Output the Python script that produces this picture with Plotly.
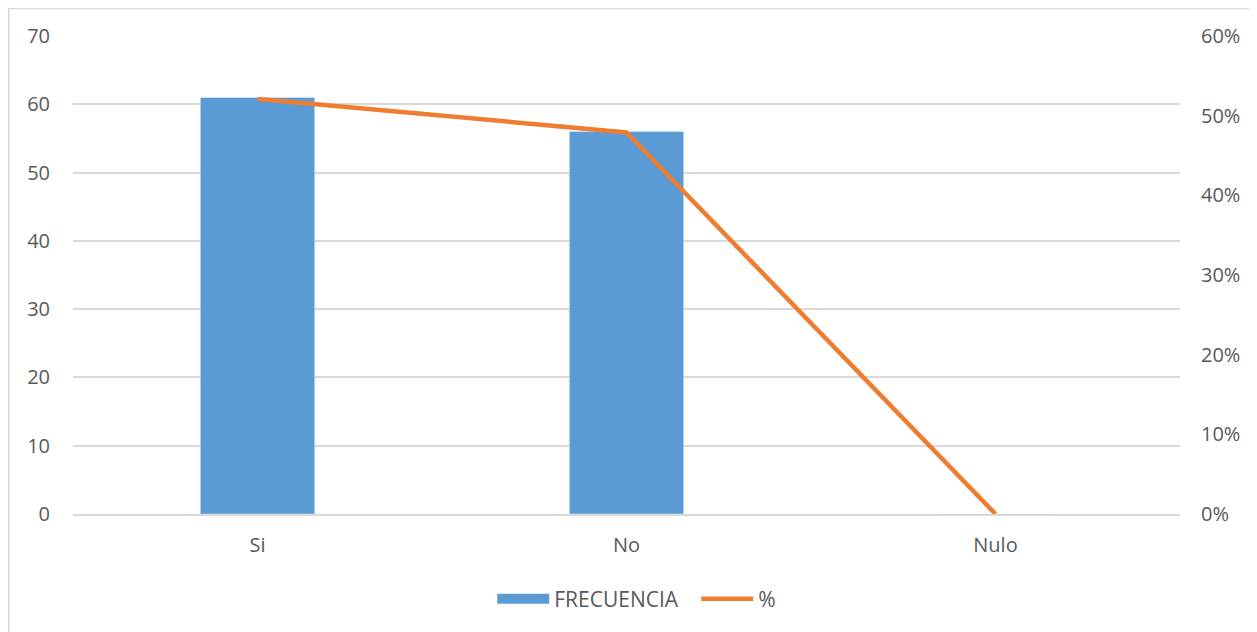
import plotly.graph_objects as go

categories = ["Si", "No", "Nulo"]
frecuencia = [61, 56, 0]
porcentaje = [0.521, 0.479, 0.0]

fig = go.Figure()
fig.add_trace(go.Bar(x=categories, y=frecuencia, name="FRECUENCIA",
                     marker=dict(color="#5B9BD5"), width=0.31, yaxis="y", showlegend=False))
# legend stand-in for the bar series (wide rectangular key)
fig.add_trace(go.Scatter(x=[None], y=[None], name="FRECUENCIA", mode="lines",
                         line=dict(color="#5B9BD5", width=14), yaxis="y"))
fig.add_trace(go.Scatter(x=categories, y=porcentaje, name="%", mode="lines",
                         line=dict(color="#ED7D31", width=4.5), yaxis="y2"))

font = dict(family="Open Sans, Liberation Sans, sans-serif", size=20, color="#595959")
fig.update_layout(
    width=1249, height=624,
    margin=dict(l=65, r=77, t=28, b=118),
    paper_bgcolor="white", plot_bgcolor="white",
    font=font,
    showlegend=True,
    legend=dict(orientation="h", x=0.563, xanchor="center", y=-0.178, yanchor="middle",
                font=dict(size=21, color="#595959"), traceorder="normal", itemwidth=52,
                entrywidth=137),
    xaxis=dict(showgrid=False, showline=True, linecolor="#D9D9D9", linewidth=1.5,
               ticks="", tickfont=font, ticklabelstandoff=12),
    yaxis=dict(range=[0, 70], dtick=10, showgrid=True, gridcolor="#D9D9D9", gridwidth=1.5,
               zeroline=False, ticks="", tickfont=font, ticklabelstandoff=22),
    yaxis2=dict(range=[0, 0.6], dtick=0.1, tickformat=".0%", overlaying="y", side="right",
                showgrid=False, zeroline=False, ticks="", tickfont=font, ticklabelstandoff=20),
    shapes=[dict(type="rect", xref="paper", yref="paper", x0=-0.058, x1=1.2, y0=-0.4, y1=1.0575,
                 line=dict(color="#D9D9D9", width=1.5), fillcolor="rgba(0,0,0,0)", layer="below")],
)

fig.write_html("out.html")
